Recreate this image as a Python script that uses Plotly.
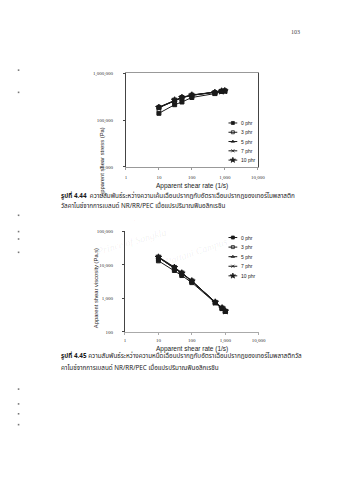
import plotly.graph_objects as go

W, H = 337, 480

# Shear rates used for both rheology plots (1/s)
shear_rate = [10, 30, 50, 100, 500, 800, 1000]
series_names = ["0 phr", "3 phr", "5 phr", "7 phr", "10 phr"]

# Apparent shear stress (Pa)
stress_0 = [139000, 212000, 242000, 302000, 366000, 405000, 414000]
stress_3 = [186000, 266000, 302000, 339000, 385000, 412000, 418000]
stress_5 = [183000, 262000, 298000, 336000, 382000, 409000, 416000]
stress_7 = [188000, 268000, 305000, 342000, 388000, 414000, 420000]
stress_10 = [184000, 264000, 300000, 337000, 384000, 410000, 417000]

# Apparent shear viscosity (Pa.s)
visc_0 = [13200, 6800, 4800, 2950, 730, 495, 405]
visc_3 = [17000, 8400, 5700, 3300, 765, 515, 415]
visc_5 = [16600, 8200, 5600, 3250, 760, 510, 412]
visc_7 = [17400, 8600, 5800, 3350, 775, 520, 418]
visc_10 = [16800, 8300, 5650, 3280, 762, 512, 414]

rate_ticks = [1, 10, 100, 1000, 10000]
rate_ticktext = ["1", "10", "100", "1,000", "10,000"]
stress_ticks = [10000, 100000, 1000000]
stress_ticktext = ["10,000", "100,000", "1,000,000"]
visc_ticks = [100, 1000, 10000, 100000]
visc_ticktext = ["100", "1,000", "10,000", "100,000"]

stress_series = [stress_0, stress_3, stress_5, stress_7, stress_10]
visc_series = [visc_0, visc_3, visc_5, visc_7, visc_10]

symbols = ["square", "square-open", "triangle-up-open", "x-thin-open", "star"]
marker_sizes = [4, 4, 4, 4, 5]
INK = "#1a1a1a"

THAI = "Noto Sans Thai, Loma, Garuda, Tlwg Typo, DejaVu Sans, sans-serif"
SANS = "Liberation Sans, Arial, sans-serif"
SERIF = "Liberation Serif, Times New Roman, serif"


def px(x):
    return x / W


def py(y):
    return 1 - y / H


fig = go.Figure()

for name, ys, sym, ms in zip(series_names, stress_series, symbols, marker_sizes):
    fig.add_trace(go.Scatter(
        x=shear_rate, y=ys, mode="lines+markers", name=name,
        line=dict(color=INK, width=1),
        marker=dict(symbol=sym, size=ms, color=INK, line=dict(color=INK, width=1)),
        xaxis="x", yaxis="y", showlegend=False))

for name, ys, sym, ms in zip(series_names, visc_series, symbols, marker_sizes):
    fig.add_trace(go.Scatter(
        x=shear_rate, y=ys, mode="lines+markers", name=name,
        line=dict(color=INK, width=1),
        marker=dict(symbol=sym, size=ms, color=INK, line=dict(color=INK, width=1)),
        xaxis="x2", yaxis="y2", showlegend=False))

# Compact legends drawn on a page-sized helper axis (pixel units)
annotations = []
for top, step in [(122.5, 9.4), (238.5, 9.7)]:
    for i, (name, sym, ms) in enumerate(zip(series_names, symbols, marker_sizes)):
        yy = top + i * step
        fig.add_trace(go.Scatter(
            x=[233, 242], y=[yy, yy], mode="lines",
            line=dict(color=INK, width=1), xaxis="x3", yaxis="y3",
            showlegend=False, hoverinfo="skip"))
        fig.add_trace(go.Scatter(
            x=[237.5], y=[yy], mode="markers",
            marker=dict(symbol=sym, size=ms - 1, color=INK, line=dict(color=INK, width=0.8)),
            xaxis="x3", yaxis="y3", showlegend=False, hoverinfo="skip"))
        annotations.append(dict(
            x=px(243.5), y=py(yy), xref="paper", yref="paper",
            text=name, showarrow=False, xanchor="left", yanchor="middle",
            font=dict(family=SANS, size=5, color=INK)))

# Small scan marks in the left margin
fig.add_trace(go.Scatter(
    x=[18] * 10,
    y=[69, 91.5, 216, 232.5, 240, 253.5, 392, 407, 417, 428],
    mode="markers", marker=dict(symbol="square", size=1.6, color="#777"),
    xaxis="x3", yaxis="y3", showlegend=False, hoverinfo="skip"))

axis_common = dict(type="log", showgrid=False, zeroline=False, showline=True,
                   ticks="outside", ticklen=2,
                   tickfont=dict(family=SERIF, size=5, color="#333"))

fig.update_layout(
    width=W, height=H, autosize=False,
    margin=dict(l=0, r=0, t=0, b=0),
    paper_bgcolor="white", plot_bgcolor="rgba(0,0,0,0)",
    showlegend=False,
    xaxis=dict(axis_common, domain=[px(128), px(263)], range=[0, 4], anchor="y",
               tickvals=rate_ticks, ticktext=rate_ticktext, linecolor="#999",
               tickcolor="#999", mirror=True, ticklabelstandoff=3),
    yaxis=dict(axis_common, domain=[py(167), py(72)], range=[4, 6], anchor="x",
               tickvals=stress_ticks, ticktext=stress_ticktext, linecolor="#444",
               tickcolor="#444", mirror=True, ticklabelstandoff=9),
    xaxis2=dict(axis_common, domain=[px(127), px(264)], range=[0, 4], anchor="y2",
                tickvals=rate_ticks, ticktext=rate_ticktext, linecolor="#aaa",
                tickcolor="#aaa", ticklabelstandoff=1),
    yaxis2=dict(axis_common, domain=[py(334), py(232.3)], range=[2, 5], anchor="x2",
                tickvals=visc_ticks, ticktext=visc_ticktext, linecolor="#444",
                tickcolor="#444", ticklabelstandoff=8),
    xaxis3=dict(domain=[0, 1], range=[0, W], visible=False, anchor="y3", fixedrange=True),
    yaxis3=dict(domain=[0, 1], range=[H, 0], visible=False, anchor="x3", fixedrange=True),
)

title_font = dict(family=SANS, size=6.5, color=INK)
annotations += [
    dict(x=px(196), y=py(181), text="Apparent shear rate (1/s)", font=title_font,
         yanchor="top", borderpad=0),
    dict(x=px(98), y=py(125), text="Apparent shear stress (Pa)", textangle=-90,
         font=dict(family=SANS, size=5.8, color=INK)),
    dict(x=px(196), y=py(346.5), text="Apparent shear rate (1/s)", font=title_font,
         yanchor="top", borderpad=0),
    dict(x=px(93), y=py(290), text="Apparent shear viscosity (Pa.s)", textangle=-90,
         font=dict(family=SANS, size=5.8, color=INK)),
    dict(x=px(308), y=py(25), text="103", font=dict(family=SERIF, size=6, color="#444")),
]

cap_font = dict(family=THAI, size=6.3, color=INK)
captions = [
    (196.5, "<b>รูปที่ 4.44</b>  ความสัมพันธ์ระหว่างความเค้นเฉือนปรากฏกับอัตราเฉือนปรากฏของเทอร์โมพลาสติก"),
    (206.5, "วัลคาไนซ์จากการเบลนด์ NR/RR/PEC เมื่อแปรปริมาณฟีนอลิกเรซิน"),
    (365.0, "<b>รูปที่ 4.45</b> ความสัมพันธ์ระหว่างความหนืดเฉือนปรากฏกับอัตราเฉือนปรากฏของเทอร์โมพลาสติกวัล"),
    (376.5, "คาไนซ์จากการเบลนด์ NR/RR/PEC เมื่อแปรปริมาณฟีนอลิกเรซิน"),
]
for yy, txt in captions:
    annotations.append(dict(x=px(60), y=py(yy), text=txt, xanchor="left",
                            font=cap_font, borderpad=0))

# Faint library watermark
wm_font = dict(family=SERIF, size=10, color="rgba(0,0,0,0.07)", style="italic")
annotations += [
    dict(x=px(134), y=py(243), text="Prince of Songkla", textangle=-16, font=wm_font),
    dict(x=px(200), y=py(253), text="Pattani Campus", textangle=-19, font=wm_font),
    dict(x=px(150), y=py(218), text="Prince of Songkla University", textangle=-16,
         font=dict(wm_font, size=8, color="rgba(0,0,0,0.04)")),
]

for a in annotations:
    a.setdefault("xref", "paper")
    a.setdefault("yref", "paper")
    a.setdefault("showarrow", False)
fig.update_layout(annotations=annotations)

fig.write_html("out.html")
